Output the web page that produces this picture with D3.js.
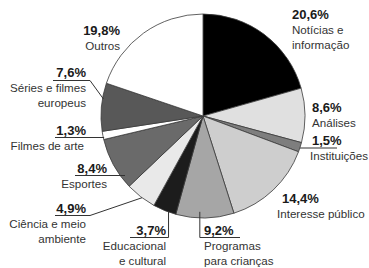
<!DOCTYPE html>
<html>
<head>
<meta charset="utf-8">
<script src="https://cdn.jsdelivr.net/npm/d3@7"></script>
<style>
  html, body { margin: 0; padding: 0; background: #fff; }
  svg { display: block; }
</style>
</head>
<body>
<svg id="chart" width="369" height="268"></svg>
<script>
// ---- data ----
const categories = [
  "Notícias e informação", "Análises", "Instituições", "Interesse público",
  "Programas para crianças", "Educacional e cultural", "Ciência e meio ambiente",
  "Esportes", "Filmes de arte", "Séries e filmes europeus", "Outros"
];
const values = [20.6, 8.6, 1.5, 14.4, 9.2, 3.7, 4.9, 8.4, 1.3, 7.6, 19.8];
const pctLabels = ["20,6%", "8,6%", "1,5%", "14,4%", "9,2%", "3,7%", "4,9%", "8,4%", "1,3%", "7,6%", "19,8%"];
const nameLines = [
  ["Notícias e", "informação"], ["Análises"], ["Instituições"], ["Interesse público"],
  ["Programas", "para crianças"], ["Educacional", "e cultural"], ["Ciência e meio", "ambiente"],
  ["Esportes"], ["Filmes de arte"], ["Séries e filmes", "europeus"], ["Outros"]
];

// ---- styles / layout ----
const fills = ["#000000", "#e0e0e0", "#7e7e7e", "#cecece", "#a6a6a6", "#1c1c1c",
               "#e9e9e9", "#6a6a6a", "#ffffff", "#585858", "#ffffff"];
const cx = 203, cy = 116, R = 102;

// label layout: anchor, x, baseline y of percent, name x offset, leader spec
const layout = [
  { anchor: "start", x: 292, y: 19 },
  { anchor: "start", x: 312, y: 112 },
  { anchor: "start", x: 312, y: 145, nx: -2, leader: { type: "h", x0: 337, uy: 148, frac: 0.59, rf: 1.0 } },
  { anchor: "start", x: 282, y: 203, nx: -5 },
  { anchor: "start", x: 204, y: 235, leader: { type: "v", x0: 240, uy: 237.5, frac: 0.59, rf: 0.94 } },
  { anchor: "end",   x: 166, y: 235, leader: { type: "v", x0: 130, uy: 237.5, frac: 0.32, rf: 1.0 } },
  { anchor: "end",   x: 86,  y: 213, leader: { type: "e", x0: 55, x1: 90, uy: 215.5, frac: 0.45, rf: 1.0 } },
  { anchor: "end",   x: 107, y: 173, leader: { type: "h", x0: 75, uy: 175.5, frac: 0.21, rf: 0.96 } },
  { anchor: "end",   x: 86,  y: 135, nx: -2, leader: { type: "h", x0: 55, uy: 137.5, frac: 0.35, rf: 0.99 } },
  { anchor: "end",   x: 86,  y: 77,  leader: { type: "e", x0: 53, x1: 90, uy: 80.5, frac: 0.67, rf: 0.99 } },
  { anchor: "end",   x: 120, y: 35 }
];

const svg = d3.select("#chart");
const data = categories.map((c, i) => ({ name: c, value: values[i], i }));

const pie = d3.pie().value(d => d.value).sort(null);
const arcs = pie(data);
const arc = d3.arc().innerRadius(0).outerRadius(R);

const g = svg.append("g").attr("transform", `translate(${cx},${cy})`);
g.selectAll("path.slice")
  .data(arcs)
  .join("path")
  .attr("class", "slice")
  .attr("d", arc)
  .attr("fill", d => fills[d.data.i])
  .attr("stroke", "#3a3a3a")
  .attr("stroke-width", 0.8)
  .attr("stroke-linejoin", "round");

// leader lines
function polar(a, r) {
  return [cx + r * Math.sin(a), cy - r * Math.cos(a)];
}
const line = d3.line();
arcs.forEach(a => {
  const L = layout[a.data.i].leader;
  if (!L) return;
  const ang = a.startAngle + L.frac * (a.endAngle - a.startAngle);
  const p = polar(ang, L.rf * R);
  let pts;
  if (L.type === "h") pts = [[L.x0, L.uy], [p[0], L.uy]];
  else if (L.type === "v") pts = [[L.x0, L.uy], [p[0], L.uy], [p[0], p[1]]];
  else pts = [[L.x0, L.uy], [L.x1, L.uy], p];
  svg.append("path")
    .attr("d", line(pts))
    .attr("fill", "none")
    .attr("stroke", "#333")
    .attr("stroke-width", 1);
});

// labels
const font = "'Liberation Sans', Arial, Helvetica, sans-serif";
arcs.forEach(a => {
  const i = a.data.i, Lo = layout[i];
  svg.append("text")
    .attr("x", Lo.x).attr("y", Lo.y)
    .attr("text-anchor", Lo.anchor)
    .attr("font-family", font)
    .attr("font-weight", "bold")
    .attr("font-size", 13)
    .attr("fill", "#1a1a1a")
    .text(pctLabels[i]);
  nameLines[i].forEach((t, k) => {
    svg.append("text")
      .attr("x", Lo.x + (Lo.nx || 0)).attr("y", Lo.y + 15 + k * 15)
      .attr("text-anchor", Lo.anchor)
      .attr("font-family", font)
      .attr("font-size", 11.6)
      .attr("fill", "#333")
      .text(t);
  });
});
</script>
</body>
</html>
